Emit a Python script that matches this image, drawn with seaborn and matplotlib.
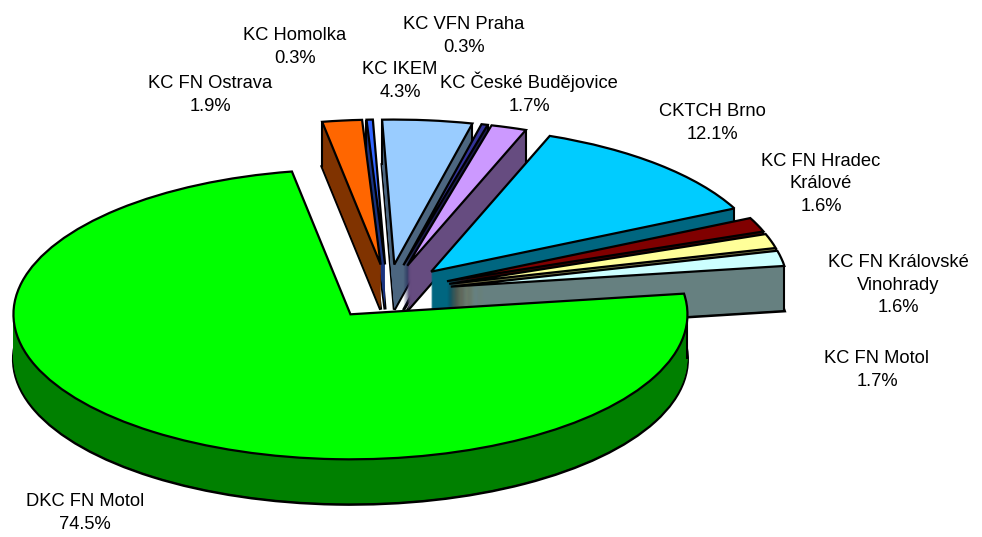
import numpy as np
import matplotlib
matplotlib.use("Agg")
import matplotlib.pyplot as plt
import seaborn as sns

# ---------------- data ----------------
categories = ["DKC FN Motol", "KC FN Ostrava", "KC Homolka", "KC IKEM", "KC VFN Praha",
              "KC České Budějovice", "CKTCH Brno", "KC FN Hradec Králové",
              "KC FN Královské Vinohrady", "KC FN Motol"]
shares = [74.5, 1.9, 0.3, 4.3, 0.3, 1.7, 12.1, 1.6, 1.6, 1.7]
label_names = ["DKC FN Motol", "KC FN Ostrava", "KC Homolka", "KC IKEM", "KC VFN Praha",
               "KC České Budějovice", "CKTCH Brno", "KC FN Hradec\nKrálové",
               "KC FN Královské\nVinohrady", "KC FN Motol"]
top_colors = ["#00FF00", "#FF6600", "#3366FF", "#99CCFF", "#333399",
              "#CC99FF", "#00CCFF", "#800000", "#FFFF99", "#CCFFFF"]
side_colors = ["#008000", "#803300", "#1A3380", "#4C6680", "#1A1A4C",
               "#664C80", "#006680", "#400000", "#80804C", "#668080"]
# label anchor positions in pixels (centre of text block)
label_px = [(85, 513), (210, 95), (295, 47), (400, 81), (464, 36),
            (529, 93), (712, 123), (821, 184), (898, 285), (877, 370)]

sns.set_theme(style="white")
plt.rcParams["font.family"] = ["Liberation Sans", "DejaVu Sans"]

W, H = 982, 537
fig = plt.figure(figsize=(W / 100, H / 100), dpi=100)
ax = fig.add_axes([0, 0, 1, 1])

# pie geometry (pixel scale of unit radius)
cx_px, cy_px = 388, 292
a_px, b_px = 337, 145
depth_px = 45
depth = depth_px / b_px
explode = [0.19] * len(shares)
startangle = 8.2

common = dict(radius=1.0, startangle=startangle, counterclock=False,
              explode=explode, normalize=True)

# bottom outline
ax.pie(shares, center=(0, -depth), colors=side_colors,
       wedgeprops=dict(edgecolor="black", linewidth=2.2), **common)
# side walls built from stacked layers
for k in range(depth_px - 1, 0, -1):
    ax.pie(shares, center=(0, -k / b_px), colors=side_colors,
           wedgeprops=dict(linewidth=0), **common)
# top faces
tops, _ = ax.pie(shares, center=(0, 0), colors=top_colors,
                 wedgeprops=dict(edgecolor="black", linewidth=1.6), **common)

shifts = np.linspace(0, depth, 46)
eps = 2.0 / a_px


def in_prism(w, x, y):
    path = w.get_path()
    return any(path.contains_point((x, y + s)) for s in shifts)


# vertical edges of the side walls (only silhouette edges, stopped where a
# wedge in front hides them)
for i, w in enumerate(tops):
    w.set_zorder(3)
    wx, wy = w.center
    front = [o for j, o in enumerate(tops) if j != i and o.center[1] < wy]
    angs = [w.theta1, w.theta2]
    for ext in (-180, 0, 180, 360):
        if w.theta1 < ext < w.theta2:
            angs.append(ext)
    for t in angs:
        x = wx + np.cos(np.radians(t))
        y = wy + np.sin(np.radians(t))
        ym = y - depth / 2
        if in_prism(w, x - eps, ym) and in_prism(w, x + eps, ym):
            continue  # interior (hidden) back edge
        stop = depth
        for s in np.linspace(0, depth, 91):
            if any(in_prism(o, x, y - s) for o in front):
                stop = s
                break
        if stop > 0:
            ax.plot([x, x], [y, y - stop], color="black", lw=1.5, zorder=2.5,
                    solid_capstyle="butt")

ax.set_aspect("auto")
ax.set_xlim((0 - cx_px) / a_px, (W - cx_px) / a_px)
ax.set_ylim((cy_px - H) / b_px, cy_px / b_px)
ax.axis("off")

for name, val, (px, py) in zip(label_names, shares, label_px):
    ax.text((px - cx_px) / a_px, (cy_px - py) / b_px, f"{name}\n{val:.1f}%",
            ha="center", va="center", fontsize=13.2, color="black",
            linespacing=1.45, multialignment="center", zorder=5)

fig.savefig("out.png", dpi=100)
